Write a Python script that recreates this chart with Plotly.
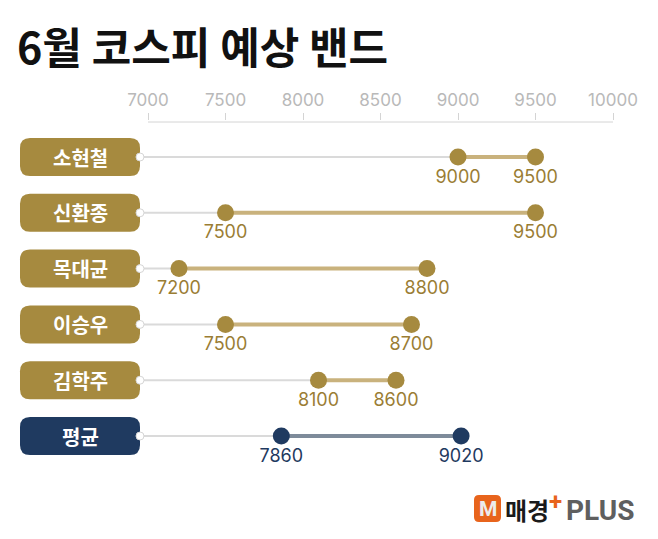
import plotly.graph_objects as go

# ---- data ----
names = ["소현철", "신환종", "목대균", "이승우", "김학주", "평균"]
low = [9000, 7500, 7200, 7500, 8100, 7860]
high = [9500, 9500, 8800, 8700, 8600, 9020]
is_avg = [False, False, False, False, False, True]
tick_vals = [7000, 7500, 8000, 8500, 9000, 9500, 10000]
tick_text = ["7000", "7500", "8000", "8500", "9000", "9500", "10000"]
title = "6월 코스피 예상 밴드"

# ---- layout geometry ----
W, H = 658, 539
TOP = 121
PX_7000, PX_10000 = 148, 613
k = (PX_10000 - PX_7000) / 3000.0
x_lo = 7000 - PX_7000 / k
x_hi = x_lo + W / k
ROW0, ROW_STEP = 157, 55.8
PILL_L, PILL_R, PILL_H, R = 20, 140, 38, 10

def px2x(px):
    return x_lo + px / k

def ppx(px):
    return px / W

def ppy(py):
    return (H - py) / (H - TOP)

def rounded(l, r, t, b, rad, ry):
    x0, x1 = ppx(l), ppx(r)
    s = 1 if b > t else -1
    return (f"M {ppx(l + rad)},{t} L {ppx(r - rad)},{t} "
            f"Q {x1},{t} {x1},{t + s*ry} L {x1},{b - s*ry} "
            f"Q {x1},{b} {ppx(r - rad)},{b} L {ppx(l + rad)},{b} "
            f"Q {x0},{b} {x0},{b - s*ry} L {x0},{t + s*ry} "
            f"Q {x0},{t} {ppx(l + rad)},{t} Z")

GOLD = "#a68a3f"
GOLD_LINE = "#c9b27d"
GOLD_TXT = "#9a7d34"
NAVY = "#1f3a60"
NAVY_LINE = "#7e8b9a"
GRAY = "#dadada"

NUMFONT = "Inter, Roboto, sans-serif"
KRFONT = "Noto Sans CJK KR"

fig = go.Figure()
shapes = []
annotations = []

for i, name in enumerate(names):
    yc = ROW0 + i * ROW_STEP
    dot = NAVY if is_avg[i] else GOLD
    seg = NAVY_LINE if is_avg[i] else GOLD_LINE
    txtc = NAVY if is_avg[i] else GOLD_TXT
    fig.add_trace(go.Scatter(x=[px2x(PILL_R), low[i]], y=[yc, yc], mode="lines",
                             line=dict(color=GRAY, width=2), hoverinfo="skip"))
    fig.add_trace(go.Scatter(x=[low[i], high[i]], y=[yc, yc], mode="lines",
                             line=dict(color=seg, width=4), hoverinfo="skip"))
    fig.add_trace(go.Scatter(x=[low[i], high[i]], y=[yc, yc], mode="markers",
                             marker=dict(color=dot, size=17, line=dict(width=0)),
                             hoverinfo="skip"))
    fig.add_trace(go.Scatter(x=[low[i], high[i]], y=[yc + 21, yc + 21], mode="text",
                             text=[str(low[i]), str(high[i])],
                             textfont=dict(family=NUMFONT, size=18, color=txtc),
                             hoverinfo="skip"))
    shapes.append(dict(type="path",
                       path=rounded(PILL_L, PILL_R, yc - PILL_H / 2, yc + PILL_H / 2, R, R),
                       xref="paper", yref="y", fillcolor=dot, line=dict(width=0), layer="above"))
    shapes.append(dict(type="circle", xref="paper", yref="y",
                       x0=ppx(PILL_R - 4), x1=ppx(PILL_R + 4), y0=yc - 4, y1=yc + 4,
                       fillcolor="white", line=dict(color="#d6d6d6", width=1), layer="above"))
    annotations.append(dict(text=f"<b>{name}</b>", x=ppx((PILL_L + PILL_R) / 2), y=yc,
                            xref="paper", yref="y", xanchor="center", yanchor="middle",
                            showarrow=False,
                            font=dict(family=KRFONT, size=20, color="white")))

# axis baseline
fig.add_trace(go.Scatter(x=[tick_vals[0], tick_vals[-1]], y=[TOP + 1, TOP + 1], mode="lines",
                         line=dict(color="#d4d4d4", width=1), hoverinfo="skip"))

# title
annotations.append(dict(text=f"<b>{title}</b>", x=ppx(15), y=ppy(45), xref="paper", yref="paper",
                        xanchor="left", yanchor="middle", showarrow=False,
                        font=dict(family=KRFONT, size=43, color="#111111")))

# logo
shapes.append(dict(type="path", path=rounded(474, 501, ppy(495), ppy(522), 5, 5 / (H - TOP)),
                   xref="paper", yref="paper", fillcolor="#e8641c", line=dict(width=0)))
annotations.append(dict(text="<b>M</b>", x=ppx(487.5), y=ppy(509), xref="paper", yref="paper",
                        xanchor="center", yanchor="middle",
                        showarrow=False, font=dict(family="Roboto", size=21, color="#ececec")))
annotations.append(dict(text="<b>매경</b>", x=ppx(503), y=ppy(509), xref="paper", yref="paper",
                        xanchor="left", yanchor="middle", showarrow=False,
                        font=dict(family=KRFONT, size=24, color="#1a1a1a")))
annotations.append(dict(text="<b>+</b>", x=ppx(555), y=ppy(502), xref="paper", yref="paper",
                        xanchor="center", yanchor="middle",
                        showarrow=False, font=dict(family="Roboto", size=24, color="#e8641c")))
annotations.append(dict(text="<b>PLUS</b>", x=ppx(564), y=ppy(510), xref="paper", yref="paper",
                        xanchor="left", yanchor="middle", showarrow=False,
                        font=dict(family="Roboto", size=28, color="#5f5f5f")))

fig.update_layout(
    width=W, height=H, margin=dict(l=0, r=0, t=TOP, b=0),
    paper_bgcolor="white", plot_bgcolor="white", showlegend=False,
    shapes=shapes, annotations=annotations,
    xaxis=dict(range=[x_lo, x_hi], side="top", tickvals=tick_vals, ticktext=tick_text,
               ticks="outside", ticklen=7, tickcolor="#d4d4d4", tickwidth=1,
               showgrid=False, zeroline=False, showline=False,
               tickfont=dict(family=NUMFONT, size=17, color="#b9b9b9")),
    yaxis=dict(range=[H, TOP], visible=False, showgrid=False, zeroline=False),
)

fig.write_html("out.html")
